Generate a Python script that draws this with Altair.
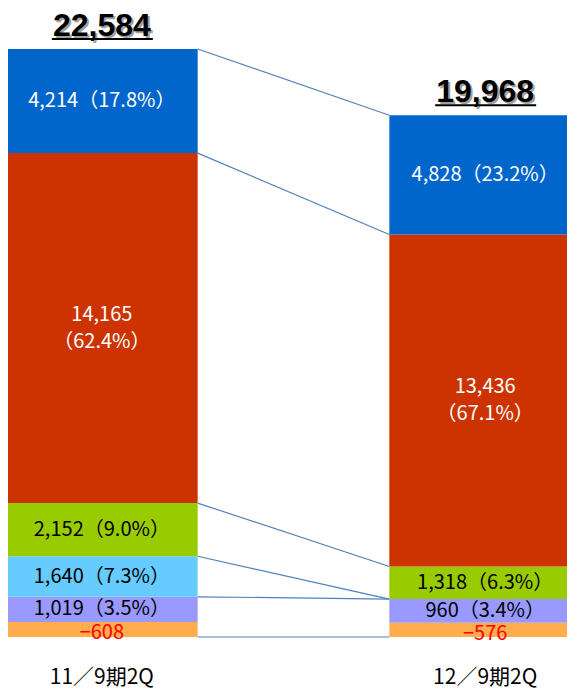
import altair as alt
import pandas as pd

# ---- data ----
periods = ["11／9期2Q", "12／9期2Q"]
totals = [22584, 19968]

blue_vals = [4214, 4828]
red_vals = [14165, 13436]
green_vals = [2152, 1318]
cyan_vals = [1640, 0]
purple_vals = [1019, 960]
orange_vals = [-608, -576]

blue_pct = ["17.8%", "23.2%"]
red_pct = ["62.4%", "67.1%"]
green_pct = ["9.0%", "6.3%"]
cyan_pct = ["7.3%", ""]
purple_pct = ["3.5%", "3.4%"]

# stack order, bottom to top
seg_keys = ["orange", "purple", "cyan", "green", "red", "blue"]
seg_vals = {"orange": orange_vals, "purple": purple_vals, "cyan": cyan_vals,
            "green": green_vals, "red": red_vals, "blue": blue_vals}
seg_pct = {"purple": purple_pct, "cyan": cyan_pct, "green": green_pct,
           "red": red_pct, "blue": blue_pct}

# ---- styles ----
fill_colors = {"orange": "#FFAD4D", "purple": "#9999FF", "cyan": "#66CCFF",
               "green": "#99CC00", "red": "#CC3300", "blue": "#0066CC"}
text_colors = {"orange": "#FF0000", "purple": "#000000", "cyan": "#000000",
               "green": "#000000", "red": "#FFFFFF", "blue": "#FFFFFF"}
line_levels = ["base", "purple", "cyan", "green", "red", "blue"]  # tops that get connector lines

bar_rows, label_rows, title_rows = [], [], []
level_vals = {}
for i, p in enumerate(periods):
    cum = 0
    level_vals.setdefault("base", []).append(0)
    for k in seg_keys:
        v = seg_vals[k][i]
        h = abs(v)
        bar_rows.append(dict(period=p, seg=k, x0=2 * i, x1=2 * i + 1,
                             y0=cum, y1=cum + h, fill=fill_colors[k]))
        if h > 0:
            if k == "orange":
                txt = "\u2212" + f"{h:,}"
            elif k == "red":
                txt = f"{v:,}\n（{seg_pct[k][i]}）"
            else:
                txt = f"{v:,}（{seg_pct[k][i]}）"
            kind = "multi" if k == "red" else ("neg" if k == "orange" else "single")
            label_rows.append(dict(period=p, seg=k, xm=2 * i + 0.5,
                                   ym=cum + h / 2, text=txt, tcolor=text_colors[k],
                                   kind=kind))
        cum += h
        level_vals.setdefault(k, []).append(cum)
    title_rows.append(dict(period=p, xm=2 * i + 0.5, top=cum,
                           text=f"{totals[i]:,}"))

line_rows = [dict(level=k, xa=1, xb=2, ya=level_vals[k][0], yb=level_vals[k][1])
             for k in line_levels]
axis_rows = [dict(period=p, xm=2 * i + 0.5, y=0) for i, p in enumerate(periods)]

bars_df = pd.DataFrame(bar_rows)
labels_df = pd.DataFrame(label_rows)
titles_df = pd.DataFrame(title_rows)
lines_df = pd.DataFrame(line_rows)
axis_df = pd.DataFrame(axis_rows)

xs = alt.Scale(domain=[0, 3], range=[-2, 573], nice=False, zero=False)
ys = alt.Scale(domain=[0, 25457], range=[629, 0], nice=False, zero=False)

bars = alt.Chart(bars_df).mark_bar().encode(
    x=alt.X("x0:Q", scale=xs, axis=None),
    x2="x1:Q",
    y=alt.Y("y0:Q", scale=ys, axis=None),
    y2="y1:Q",
    color=alt.Color("fill:N", scale=None),
)

lines = alt.Chart(lines_df).mark_rule(color="#4F81BD", strokeWidth=1.2).encode(
    x=alt.X("xa:Q", scale=xs, axis=None),
    x2="xb:Q",
    y=alt.Y("ya:Q", scale=ys, axis=None),
    y2="yb:Q",
)

label_enc = dict(
    x=alt.X("xm:Q", scale=xs, axis=None),
    y=alt.Y("ym:Q", scale=ys, axis=None),
    text="text:N",
    color=alt.Color("tcolor:N", scale=None),
)

labels_single = alt.Chart(labels_df).transform_filter(
    "datum.kind == 'single'"
).mark_text(
    font="Noto Sans CJK JP", fontSize=20, baseline="middle", align="center"
).encode(**label_enc)

labels_neg = alt.Chart(labels_df).transform_filter(
    "datum.kind == 'neg'"
).mark_text(
    font="Noto Sans CJK JP", fontSize=20, baseline="middle", align="center", dy=4
).encode(**label_enc)

labels_multi = alt.Chart(labels_df).transform_filter(
    "datum.kind == 'multi'"
).mark_text(
    font="Noto Sans CJK JP", fontSize=20, lineBreak="\n", lineHeight=27,
    baseline="middle", align="center", dy=-13
).encode(**label_enc)

title_shadow = alt.Chart(titles_df).mark_text(
    font="Liberation Sans", fontSize=32, fontWeight="bold", color="#A0A0A0",
    baseline="alphabetic", align="center", dx=2, dy=-11
).encode(
    x=alt.X("xm:Q", scale=xs, axis=None),
    y=alt.Y("top:Q", scale=ys, axis=None),
    text="text:N",
)

title_text = alt.Chart(titles_df).mark_text(
    font="Liberation Sans", fontSize=32, fontWeight="bold", color="#000000",
    baseline="alphabetic", align="center", dy=-13
).encode(
    x=alt.X("xm:Q", scale=xs, axis=None),
    y=alt.Y("top:Q", scale=ys, axis=None),
    text="text:N",
)

underline = alt.Chart(titles_df).mark_rule(
    color="#000000", strokeWidth=2, xOffset=-50, x2Offset=51, yOffset=-10
).encode(
    x=alt.X("xm:Q", scale=xs, axis=None),
    x2="xm:Q",
    y=alt.Y("top:Q", scale=ys, axis=None),
)

xlabels = alt.Chart(axis_df).mark_text(
    font="Noto Sans CJK JP", fontSize=21, color="#000000",
    baseline="alphabetic", align="center", dy=47
).encode(
    x=alt.X("xm:Q", scale=xs, axis=None),
    y=alt.Y("y:Q", scale=ys, axis=None),
    text="period:N",
)

chart = alt.layer(
    lines, bars, labels_single, labels_neg, labels_multi, title_shadow,
    title_text, underline, xlabels
).properties(
    width=559, height=683,
    autosize=alt.AutoSizeParams(type="none"),
    padding=0,
).configure_view(stroke=None)

chart.save("out.html", embed_options={"renderer": "svg", "actions": False})
